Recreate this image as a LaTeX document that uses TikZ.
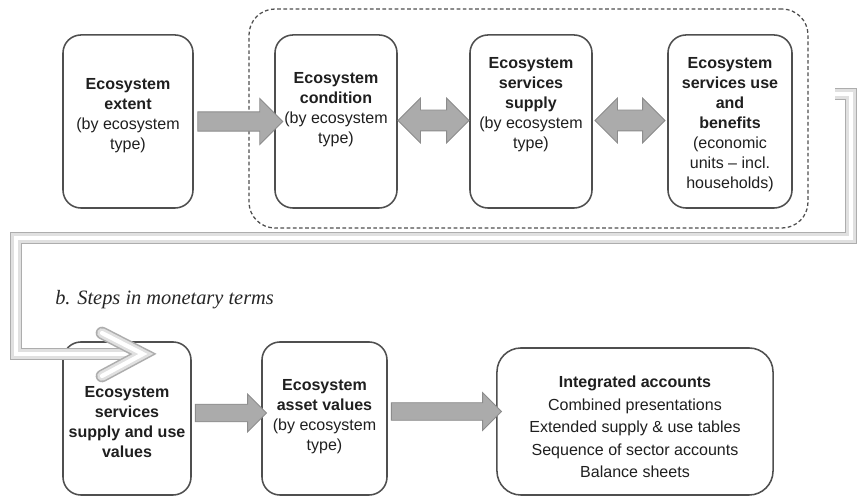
\documentclass[tikz,border=0pt]{standalone}
\usepackage{fontspec}
\setmainfont{Liberation Sans}
\newfontfamily\capfont{Liberation Serif}
\usepackage{tikz}
\usetikzlibrary{calc,fit,shapes.arrows}
\definecolor{bord}{HTML}{4F4F4F}
\definecolor{arf}{HTML}{ABABAB}
\definecolor{ard}{HTML}{8C8C8C}
\tikzset{
  bx/.style={rectangle,rounded corners=.45cm,draw=bord,fill=white,line width=1.1pt,inner sep=0pt},
  bxw/.style={bx,rounded corners=.6cm},
  grp/.style={rectangle,rounded corners=.65cm,draw=bord,dash pattern=on 2.6pt off 1.8pt,line width=.9pt,inner sep=0pt},
  tx/.style={align=center,inner sep=0pt,text=black!88,font=\fontsize{11.4}{14.2}\selectfont},
  txw/.style={tx,font=\fontsize{11.4}{16}\selectfont},
  captx/.style={inner sep=0pt,text=black!85,font=\capfont\itshape\fontsize{14.5}{17}\selectfont},
  % block arrows between the steps
  sar/.style={single arrow,draw=ard,fill=arf,line width=.6pt,inner xsep=0pt,inner ysep=.23cm,
    single arrow head extend=.335cm,minimum width=1.15cm},
  sarb/.style={sar,inner ysep=.21cm,single arrow head extend=.25cm,minimum width=.92cm},
  dar/.style={double arrow,draw=ard,fill=arf,line width=.6pt,inner xsep=0pt,inner ysep=.25cm,
    double arrow head extend=.3cm,minimum width=1.1cm},
  % bent hollow arrow from the physical row to the monetary row
  holo/.style={draw=black!32,line width=9pt,line join=miter},
  holm/.style={draw=black!12,line width=6.8pt,line join=miter},
  holi/.style={draw=white,line width=3pt,line join=miter},
  holoc/.style={holo,line cap=round},
  holmc/.style={holm,line cap=round},
  holic/.style={holi,line cap=round},
}

\begin{document}
\begin{tikzpicture}[x=.025cm,y=-.025cm]
\useasboundingbox (0,0) rectangle (857,497);
\fill[white] (0,0) rectangle (857,497);
% ---------- row 1: steps in physical terms ----------
\node[grp,fit={(249,9) (808,228)}] (grp) {};
\node[bx,minimum width=3.25cm,minimum height=4.325cm] (ext) at (128,121.5) {};
\node[bx,minimum width=3.05cm,minimum height=4.325cm] (cond) at (336,121.5) {};
\node[bx,minimum width=3.05cm,minimum height=4.325cm] (sup) at (531,121.5) {};
\node[bx,minimum width=3.1cm,minimum height=4.325cm] (use) at (730,121.5) {};
\node[tx] (extT) at (128,116) {\textbf{Ecosystem}\\ \textbf{extent}\\ (by ecosystem\\ type)};
\node[tx] (condT) at (336,110) {\textbf{Ecosystem}\\ \textbf{condition}\\ (by ecosystem\\ type)};
\node[tx] (supT) at (531,105) {\textbf{Ecosystem}\\ \textbf{services}\\ \textbf{supply}\\ (by ecosystem\\ type)};
\node[tx] (useT) at (730,125) {\textbf{Ecosystem}\\ \textbf{services use}\\ \textbf{and}\\ \textbf{benefits}\\ (economic\\ units -- incl.\\ households)};
\node[sar,minimum height=2.125cm] (a1) at ($(ext.east)!.5!(cond.west)+(1.5,0)$) {};
\node[dar,minimum height=1.775cm] (a2) at ($(cond.east)!.5!(sup.west)+(0,-1)$) {};
\node[dar,minimum height=1.75cm] (a3) at ($(sup.east)!.5!(use.west)+(0,-1)$) {};
% ---------- row 2: steps in monetary terms ----------
\node[captx,anchor=west] (capt) at (55,300) {b. Steps in monetary terms};
\node[bx,minimum width=3.2cm,minimum height=3.825cm] (sv) at (127,418.5) {};
\node[bx,minimum width=3.125cm,minimum height=3.825cm] (av) at (324.5,418.5) {};
\node[bxw,minimum width=6.9cm,minimum height=3.675cm] (ia) at (635,421.5) {};
\node[tx] (svT) at (127,422) {\textbf{Ecosystem}\\ \textbf{services}\\ \textbf{supply and use}\\ \textbf{values}};
\node[tx] (avT) at (324.5,417) {\textbf{Ecosystem}\\ \textbf{asset values}\\ (by ecosystem\\ type)};
\node[txw] (iaT) at (635,427) {\textbf{Integrated accounts}\\ Combined presentations\\ Extended supply \& use tables\\ Sequence of sector accounts\\ Balance sheets};
\node[sarb,minimum height=1.775cm] (a4) at ($(sv.east)!.5!(av.west)+(0,-5.5)$) {};
\node[sarb,minimum height=2.75cm] (a5) at ($(av.east)!.5!(ia.west)+(0,-8.5)$) {};
% ---------- bent hollow arrow, drawn over the first box of row 2 ----------
\coordinate (hs) at (835,94);
\coordinate (hc) at (851,238);
\coordinate (hl) at (16,238);
\coordinate (he) at (143,354);
\coordinate (hu) at (102,333);
\coordinate (hd) at (102,376);
\foreach \st in {holo,holm,holi}
  \draw[\st] (hs) -- (851,94) -- (hc) -- (hl) -- (16,354) -- (he);
\foreach \st in {holoc,holmc,holic}
  \draw[\st] (hu) -- (he) -- (hd);
\end{tikzpicture}
\end{document}
